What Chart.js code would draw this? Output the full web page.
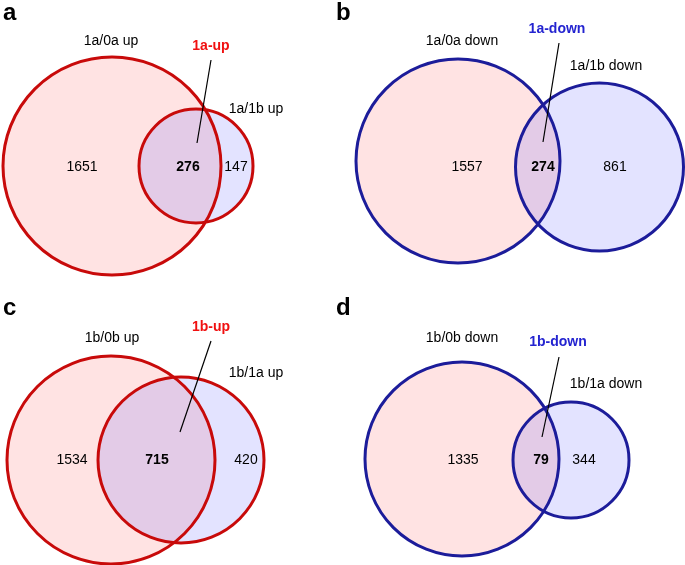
<!DOCTYPE html>
<html>
<head>
<meta charset="utf-8">
<script src="https://cdn.jsdelivr.net/npm/chart.js@4/dist/chart.umd.min.js"></script>
<style>
html,body{margin:0;padding:0;background:#fff;}
#wrap{width:685px;height:565px;}
</style>
</head>
<body>
<div id="wrap"><canvas id="c" width="685" height="565"></canvas></div>
<script>
// ---- data ----
const panelLetters = ['a', 'b', 'c', 'd'];
const setALabels = ['1a/0a up', '1a/0a down', '1b/0b up', '1b/0b down'];
const setBLabels = ['1a/1b up', '1a/1b down', '1b/1a up', '1b/1a down'];
const overlapLabels = ['1a-up', '1a-down', '1b-up', '1b-down'];
const onlyA = [1651, 1557, 1534, 1335];
const both = [276, 274, 715, 79];
const onlyB = [147, 861, 420, 344];
const direction = ['up', 'down', 'up', 'down'];

// ---- layout (chart units, y downward) ----
const layout = [
  { letter: [3, 20], A: [112, 166, 109], B: [196, 166, 57], labA: [111, 41], labB: [256, 109], labO: [211, 46],
    line: [[211, 60], [197, 143]], nums: [[82, 167], [188, 167], [236, 167]] },
  { letter: [336, 20], A: [458, 161, 102], B: [599.5, 167, 84], labA: [462, 41], labB: [606, 66], labO: [557, 29],
    line: [[559, 43], [543, 142]], nums: [[467, 167], [543, 167], [615, 167]] },
  { letter: [3, 315], A: [111, 460, 104], B: [181, 460, 83], labA: [112, 338], labB: [256, 373], labO: [211, 327],
    line: [[211, 341], [180, 432]], nums: [[72, 460], [157, 460], [246, 460]] },
  { letter: [336, 315], A: [462, 459, 97], B: [571, 460, 58], labA: [462, 338], labB: [606, 384], labO: [558, 342],
    line: [[559, 357], [542, 437]], nums: [[463, 460], [541, 460], [584, 460]] }
];
const styles = {
  up: { stroke: '#c80a0a', text: '#f01010' },
  down: { stroke: '#1c1c9a', text: '#2424d0' }
};
const fillA = 'rgba(255,0,0,0.11)';
const fillB = 'rgba(0,0,255,0.11)';
const FONT = '"Liberation Sans", Arial, Helvetica, sans-serif';

const vennPlugin = {
  id: 'venn',
  afterDatasetsDraw(chart) {
    const ctx = chart.ctx;
    const xs = chart.scales.x, ys = chart.scales.y;
    const px = v => xs.getPixelForValue(v);
    const py = v => ys.getPixelForValue(v);
    const pr = r => Math.abs(xs.getPixelForValue(r) - xs.getPixelForValue(0));
    ctx.save();
    layout.forEach((L, i) => {
      const st = styles[direction[i]];
      const circ = (c) => { ctx.beginPath(); ctx.arc(px(c[0]), py(c[1]), pr(c[2]), 0, Math.PI * 2); };
      // fills
      circ(L.A); ctx.fillStyle = fillA; ctx.fill();
      circ(L.B); ctx.fillStyle = fillB; ctx.fill();
      // strokes
      ctx.lineWidth = 3; ctx.strokeStyle = st.stroke;
      circ(L.A); ctx.stroke();
      circ(L.B); ctx.stroke();
      // leader line
      ctx.lineWidth = 1.2; ctx.strokeStyle = '#000';
      ctx.beginPath();
      ctx.moveTo(px(L.line[0][0]), py(L.line[0][1]));
      ctx.lineTo(px(L.line[1][0]), py(L.line[1][1]));
      ctx.stroke();
      // texts
      ctx.textBaseline = 'middle';
      ctx.textAlign = 'center';
      ctx.fillStyle = '#000';
      ctx.font = '14px ' + FONT;
      ctx.fillText(setALabels[i], px(L.labA[0]), py(L.labA[1]));
      ctx.fillText(setBLabels[i], px(L.labB[0]), py(L.labB[1]));
      ctx.fillText(String(onlyA[i]), px(L.nums[0][0]), py(L.nums[0][1]));
      ctx.fillText(String(onlyB[i]), px(L.nums[2][0]), py(L.nums[2][1]));
      ctx.font = 'bold 14px ' + FONT;
      ctx.fillText(String(both[i]), px(L.nums[1][0]), py(L.nums[1][1]));
      ctx.fillStyle = st.text;
      ctx.fillText(overlapLabels[i], px(L.labO[0]), py(L.labO[1]));
      // panel letter
      ctx.fillStyle = '#000';
      ctx.font = 'bold 24px ' + FONT;
      ctx.textAlign = 'left';
      ctx.textBaseline = 'alphabetic';
      ctx.fillText(panelLetters[i], px(L.letter[0]), py(L.letter[1]));
    });
    ctx.restore();
  }
};

new Chart(document.getElementById('c'), {
  type: 'scatter',
  data: { datasets: [{ data: [], pointRadius: 0 }] },
  options: {
    responsive: false,
    animation: false,
    layout: { padding: 0 },
    plugins: { legend: { display: false }, tooltip: { enabled: false } },
    scales: {
      x: { type: 'linear', min: 0, max: 685, display: false },
      y: { type: 'linear', min: 0, max: 565, reverse: true, display: false }
    }
  },
  plugins: [vennPlugin]
});
</script>
</body>
</html>
